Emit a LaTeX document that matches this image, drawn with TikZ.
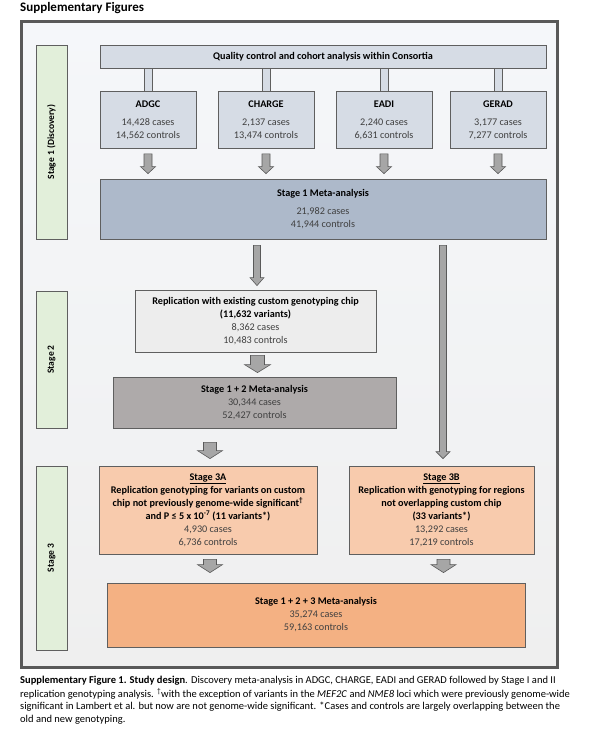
\documentclass[tikz,border=0pt]{standalone}
\usepackage{fontspec}
\setmainfont{Carlito}
\usetikzlibrary{calc}
\definecolor{frameline}{HTML}{595959}
\definecolor{frametop}{HTML}{F5F7FA}
\definecolor{framebot}{HTML}{EFEFEF}
\definecolor{boxline}{HTML}{5F5F5F}
\definecolor{greenlab}{HTML}{E2EFDA}
\definecolor{bluelite}{HTML}{D6DCE5}
\definecolor{bluemid}{HTML}{ADB9CA}
\definecolor{graylite}{HTML}{EDEDED}
\definecolor{graymid}{HTML}{AEAAAA}
\definecolor{orangelite}{HTML}{F8CBAD}
\definecolor{orangemid}{HTML}{F4B183}
\definecolor{arrowfill}{HTML}{A6A6A6}
\definecolor{txtgray}{HTML}{404040}
\newcommand\hdr[1]{{\bfseries\color{black}#1}}
\newcommand\barrow[5]{%
  \draw[barrowstyle] let \p1=(#1), \p2=(#2) in
    (\x1-#3/2,\y1) -- (\x1+#3/2,\y1) -- (\x1+#3/2,\y2+#5) -- (\x1+#4/2,\y2+#5)
    -- (\x1,\y2) -- (\x1-#4/2,\y2+#5) -- (\x1-#3/2,\y2+#5) -- cycle;}
\tikzset{
  box/.style={draw=boxline, line width=0.8pt, inner sep=0pt, align=center,
    font=\fontsize{10.2}{13}\selectfont, text=txtgray},
  stagelab/.style={draw=boxline, line width=0.8pt, fill=greenlab, inner sep=0pt,
    minimum width=31pt, font=\bfseries\fontsize{9.5}{11}\selectfont},
  stub/.style={draw=boxline, line width=0.7pt, fill=bluelite},
  barrowstyle/.style={draw=frameline, line width=0.6pt, fill=arrowfill, line join=miter},
  captxt/.style={anchor=west, inner sep=0pt, font=\fontsize{10.5}{13}\selectfont}
}
\begin{document}
\begin{tikzpicture}[x=1pt,y=-1pt]
\useasboundingbox (0,0) rectangle (592,740);
\fill[white] (0,0) rectangle (592,740);
% title
\node[anchor=west, inner sep=0pt, font=\bfseries\fontsize{13}{15}\selectfont] (title) at (20,8) {Supplementary Figures};
% frame
\shade[top color=frametop, bottom color=framebot] (21.5,21.5) rectangle (557,667);
\draw[draw=frameline, line width=3pt] (21.5,21.5) rectangle (557,667);
% stage labels
\node[stagelab, minimum height=194pt] (lab1) at (51.5,142) {\rotatebox{90}{Stage 1 (Discovery)}};
\node[stagelab, minimum height=137pt] (lab2) at (51.5,359.5) {\rotatebox{90}{Stage 2}};
\node[stagelab, minimum height=184pt] (lab3) at (51.5,558) {\rotatebox{90}{Stage 3}};
% boxes
\node[box, fill=bluelite, minimum width=446pt, minimum height=23pt] (qc) at (323,56.5)
  {\hdr{Quality control and cohort analysis within Consortia}};
\node[box, fill=bluelite, minimum width=96pt, minimum height=57pt] (adgc) at (148,120)
  {\hdr{ADGC}\\[5pt]14,428 cases\\14,562 controls};
\node[box, fill=bluelite, minimum width=96pt, minimum height=57pt] (charge) at (266,120)
  {\hdr{CHARGE}\\[5pt]2,137 cases\\13,474 controls};
\node[box, fill=bluelite, minimum width=96pt, minimum height=57pt] (eadi) at (384,120)
  {\hdr{EADI}\\[5pt]2,240 cases\\6,631 controls};
\node[box, fill=bluelite, minimum width=96pt, minimum height=57pt] (gerad) at (498,120)
  {\hdr{GERAD}\\[5pt]3,177 cases\\7,277 controls};
\node[box, fill=bluemid, minimum width=446pt, minimum height=60pt] (meta1) at (323,209)
  {\hdr{Stage 1 Meta-analysis}\\[5pt]21,982 cases\\41,944 controls};
\node[box, fill=graylite, minimum width=241pt, minimum height=62pt] (rep) at (255.5,321)
  {\hdr{Replication with existing custom genotyping chip}\\\hdr{(11,632 variants)}\\8,362 cases\\10,483 controls};
\node[box, fill=graymid, minimum width=283pt, minimum height=51pt] (s12) at (254.5,402.5)
  {\hdr{Stage 1 + 2 Meta-analysis}\\30,344 cases\\52,427 controls};
\node[box, fill=orangelite, minimum width=218pt, minimum height=88pt] (s3a) at (208,510)
  {\hdr{\underline{Stage 3A}}\\\hdr{Replication genotyping for variants on custom}\\
   \hdr{chip not previously genome-wide significant\textsuperscript{†}}\\
   \hdr{and P ≤ 5 x 10\textsuperscript{-7} (11 variants*)}\\4,930 cases\\6,736 controls};
\node[box, fill=orangelite, minimum width=185pt, minimum height=88pt] (s3b) at (441.5,510)
  {\hdr{\underline{Stage 3B}}\\\hdr{Replication with genotyping for regions}\\
   \hdr{not overlapping custom chip}\\\hdr{(33 variants*)}\\13,292 cases\\17,219 controls};
\node[box, fill=orangemid, minimum width=418pt, minimum height=64pt] (final) at (316,615)
  {\hdr{Stage 1 + 2 + 3 Meta-analysis}\\35,274 cases\\59,163 controls};
% stubs from quality control box
\foreach \b in {adgc,charge,eadi,gerad}{
  \draw[stub] ($(qc.south -| \b.north)+(-4,0)$) rectangle ($(\b.north)+(4,0)$);
}
% small arrows into stage 1 meta
\foreach \b in {adgc,charge,eadi,gerad}{
  \barrow{$(\b.south)+(0,5)$}{$(\b.south |- meta1.north)+(0,-5)$}{8pt}{15pt}{7pt}
}
% meta1 -> replication
\barrow{$(meta1.south -| rep.north)+(1.5,6)$}{$(rep.north)+(1.5,-4)$}{7pt}{14pt}{8pt}
% meta1 -> stage 3B (long)
\barrow{$(meta1.south -| s3b.north)+(1.5,6)$}{$(s3b.north)+(1.5,-7)$}{7pt}{14pt}{7pt}
% replication -> stage 1+2
\barrow{$(rep.south)+(2,3)$}{$(rep.south |- s12.north)+(2,-4)$}{14pt}{26pt}{8pt}
% stage 1+2 -> 3A
\barrow{$(s12.south -| s3a.north)+(2,14)$}{$(s3a.north)+(2,-7)$}{13pt}{25pt}{8pt}
% 3A, 3B -> final
\barrow{$(s3a.south)+(2,5)$}{$(s3a.south |- final.north)+(2,-10)$}{13pt}{25pt}{8pt}
\barrow{$(s3b.south)+(2,5)$}{$(s3b.south |- final.north)+(2,-10)$}{13pt}{25pt}{8pt}
% caption
\node[captxt] (cap1) at (20,681) {\textbf{Supplementary Figure 1. Study design}. Discovery meta-analysis in ADGC, CHARGE, EADI and GERAD followed by Stage I and II};
\node[captxt] (cap2) at (20,694) {replication genotyping analysis. \textsuperscript{†}with the exception of variants in the \textit{MEF2C} and \textit{NME8} loci which were previously genome-wide};
\node[captxt] (cap3) at (20,707) {significant in Lambert et al. but now are not genome-wide significant. *Cases and controls are largely overlapping between the};
\node[captxt] (cap4) at (20,720) {old and new genotyping.};
\end{tikzpicture}
\end{document}
